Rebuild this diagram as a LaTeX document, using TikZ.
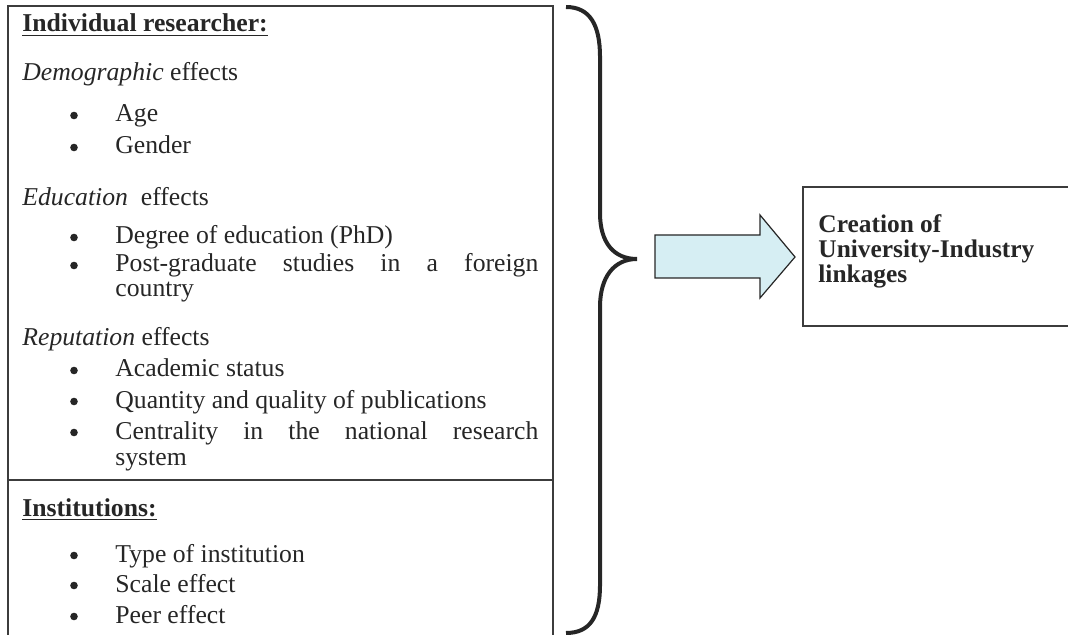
\documentclass[tikz,border=0pt]{standalone}
\usepackage{fontspec}
\setmainfont{Liberation Serif}

\definecolor{ink}{HTML}{262626}
\definecolor{arrowfill}{HTML}{D6EEF3}

\begin{document}
\begin{tikzpicture}[x=0.5pt, y=-0.5pt,
    txt/.style={anchor=base west, inner sep=0pt, text=ink, font=\fontsize{12.85}{15}\selectfont},
    dot/.style={circle, fill=ink, inner sep=0pt, minimum size=3.8pt},
    frame/.style={draw=ink!90, line width=1pt}]
  \useasboundingbox (0,0) rectangle (1068,635);

  % boxes
  \draw[frame] (8,640) -- (8,6) -- (553,6) -- (553,640);
  \draw[frame] (8,480) -- (553,480);
  \draw[frame] (1072,187) -- (803,187) -- (803,326) -- (1072,326);

  % brace
  \draw[ink, line width=2pt] (566,7) .. controls (590,7) and (600,25) .. (600,57)
    -- (600,213) .. controls (600,243) and (614,259) .. (637,259)
    .. controls (614,259) and (600,277) .. (600,307)
    -- (600,585) .. controls (600,617) and (590,633) .. (566,633);

  % block arrow
  \draw[ink, fill=arrowfill, line width=0.6pt] (655,235) -- (760,235) -- (760,215) -- (795,257)
    -- (760,298) -- (760,278) -- (655,278) -- cycle;

  \node[txt] (indiv) at (22,32) {\textbf{\underline{Individual researcher:}}};
  \node[txt] (demo) at (22,81) {\textit{Demographic} effects};
  \node[txt] (edu) at (22,206) {\textit{Education}\ \ effects};
  \node[txt] (rep) at (22,345) {\textit{Reputation} effects};
  \node[txt] (inst) at (22,516) {\textbf{\underline{Institutions:}}};

  \foreach \n/\y/\t in {age/122/Age, gender/154/Gender, degree/244/{Degree of education (PhD)},
      postgrad/272/{\makebox[211.5pt][s]{Post-graduate studies in a foreign}},
      acad/377/{Academic status}, pubs/408/{Quantity and quality of publications},
      central/439/{\makebox[211.5pt][s]{Centrality in the national research}},
      type/562/{Type of institution}, scale/592/{Scale effect}, peer/623/{Peer effect}} {
    \node[dot] (b-\n) at (74,\y-6.5) {};
    \node[txt] (\n) at (115,\y) {\t};
  }
  \node[txt] (country) at (115,297) {country};
  \node[txt] (system) at (115,465) {system};

  % anchor base sits on the last line here
  \node[txt, font=\bfseries\fontsize{12.7}{12.5}\selectfont, align=left] (result) at (818,283)
    {Creation of\\University-Industry\\linkages};
\end{tikzpicture}
\end{document}
